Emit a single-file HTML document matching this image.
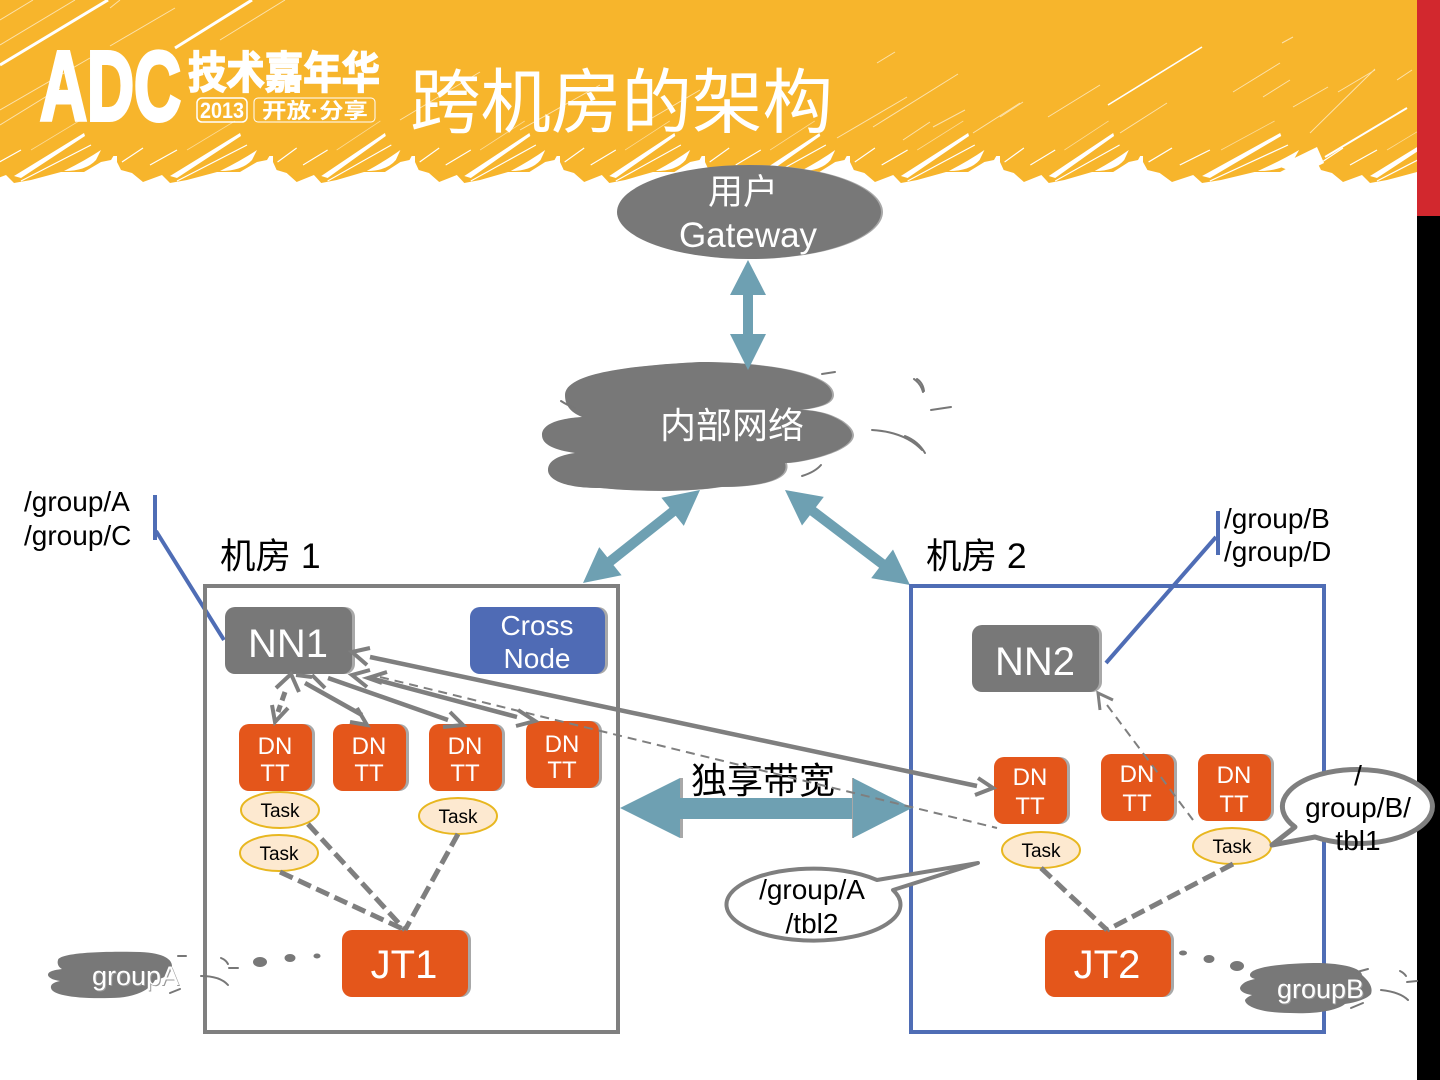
<!DOCTYPE html>
<html><head><meta charset="utf-8"><style>
html,body{margin:0;padding:0;background:#fff}
svg{display:block}
text{font-family:"Liberation Sans","WenQuanYi Zen Hei","Noto Sans CJK SC",sans-serif}
.c{text-anchor:middle}
.w{fill:#fff}
.g{fill:#787878}
.o{fill:#e4561b}
.s{fill:#a8a8a8}
.t{fill:#fde9d0;stroke:#e8b720;stroke-width:2}
.tail{fill:none;stroke:#777;stroke-width:2;stroke-linecap:round}
.ln{stroke:#7f7f7f;fill:none}
</style></head><body>
<svg width="1440" height="1080" viewBox="0 0 1440 1080" xmlns="http://www.w3.org/2000/svg">
<defs>
<g id="tile">
<path d="M0,150 L0,162 4,170 15,173 26,182 45,175 53,183 70,180 100,172 123,172 140,162 150,160 156,150 Z" fill="#f7b52c"/>
<polygon points="53,176 123,133 124,136 60,178" fill="#fff"/>
<path d="M103,171 Q125,171 135,160 L140,150 Q125,160 103,171 Z" fill="#fff"/>
<path d="M60,181 L130,145 M5,162 L26,148 M33,165 L60,150" stroke="#fff" stroke-width="1.2" fill="none"/>
<path d="M70,150 L118,121" stroke="#fff" stroke-width=".8" opacity=".5" fill="none"/>
</g>
</defs>
<rect x="0" y="0" width="1440" height="1080" fill="#fff"/>
<!-- header -->
<rect x="0" y="0" width="1417" height="156" fill="#f7b52c"/>
<use href="#tile" transform="translate(-39,0)"/>
<use href="#tile" transform="translate(117,0)"/>
<use href="#tile" transform="translate(273,0) scale(.91,1)"/>
<use href="#tile" transform="translate(415,0) scale(.93,1)"/>
<use href="#tile" transform="translate(560,0) scale(.93,1)"/>
<use href="#tile" transform="translate(705,0) scale(.93,1)"/>
<use href="#tile" transform="translate(850,0) scale(.96,1)"/>
<use href="#tile" transform="translate(1000,0) scale(.92,1)"/>
<use href="#tile" transform="translate(1143,0) scale(1.115,1)"/>
<use href="#tile" transform="translate(1317,0)"/>
<polygon points="1278,166 1317,147 1324,163 1300,175" fill="#fff"/>
<g stroke="#fff" fill="none">
<path d="M0,65 L108,0 M175,48 L252,0" stroke-width="3"/>
<path d="M1108,105 L1202,47" stroke-width="1.6"/>
<path d="M1325,157 L1407,108" stroke-width="2"/>
<g stroke-width="1" opacity=".6">
<path d="M0,20 L33,0 M0,45 L75,0 M110,46 L175,8 M0,110 L90,58 M0,125 L60,88 M120,0 L110,8 M285,0 L220,40"/>
<path d="M400,120 L480,72 M520,130 L600,85 M640,125 L700,90"/>
<path d="M877,63 L895,52 M837,138 L907,97 M873,127 L958,74 M903,140 L930,122 M933,127 L965,110 M973,133 L1020,103"/>
<path d="M1000,117 L1023,102 M1048,117 L1100,85 M1120,133 L1167,103 M1282,43 L1293,37 M1233,92 L1280,63 M1263,97 L1290,80 M1293,107 L1328,87 M1310,133 L1375,69 M1338,92 L1375,70 M1397,80 L1412,70"/>
</g>
</g>
<rect x="1417" y="0" width="23" height="1080" fill="#000"/>
<rect x="1417" y="0" width="23" height="216" fill="#d2282e"/>
<!-- logo -->
<text x="40" y="120" font-size="98" font-weight="700" fill="#fff" stroke="#fff" stroke-width="4" textLength="141" lengthAdjust="spacingAndGlyphs">ADC</text>
<text x="188" y="88" font-size="44" font-weight="700" fill="#fff" stroke="#fff" stroke-width="1.5" textLength="192" lengthAdjust="spacingAndGlyphs">技术嘉年华</text>
<rect x="197" y="98" width="50" height="24" rx="5" fill="none" stroke="#fff" stroke-width="1.5"/>
<text x="222" y="118" class="c" font-size="22" font-weight="700" fill="#fff" textLength="44" lengthAdjust="spacingAndGlyphs">2013</text>
<rect x="254" y="98" width="121" height="24" rx="4" fill="none" stroke="#fff" stroke-width="1"/>
<text x="262" y="118" font-size="21" font-weight="700" fill="#fff" textLength="106" lengthAdjust="spacingAndGlyphs">开放·分享</text>
<text x="410" y="127" font-size="70.5" fill="#fff">跨机房的架构</text>

<!-- gateway -->
<ellipse cx="751" cy="212" rx="132" ry="47" class="s"/>
<ellipse cx="749" cy="212" rx="132" ry="47" class="g"/>
<text x="743" y="204" class="c w" font-size="35">用户</text>
<text x="748" y="247" class="c w" font-size="35">Gateway</text>

<!-- cloud -->
<path transform="translate(2,0)" class="s" d="M565,395 C565,375 620,366 700,362 C760,362 832,372 832,395 C832,405 815,408 800,410 C830,410 852,425 852,435 C852,452 800,463 785,463 C790,480 760,487 720,487 C690,492 640,492 600,488 C560,488 548,478 548,470 C548,460 560,455 575,453 C555,450 542,445 542,435 C542,422 565,418 582,417 C570,412 565,405 565,395 Z"/>
<path class="g" d="M565,395 C565,375 620,366 700,362 C760,362 832,372 832,395 C832,405 815,408 800,410 C830,410 852,425 852,435 C852,452 800,463 785,463 C790,480 760,487 720,487 C690,492 640,492 600,488 C560,488 548,478 548,470 C548,460 560,455 575,453 C555,450 542,445 542,435 C542,422 565,418 582,417 C570,412 565,405 565,395 Z"/>
<text x="660" y="438" class="w" font-size="36">内部网络</text>
<g class="tail">
<path d="M822,374 L835,372"/><path d="M914,379 Q921,384 923,392"/><path d="M917,379 Q923,383 924,391"/><path d="M931,410 L951,407"/>
<path d="M872,430 Q905,432 922,450"/><path d="M905,436 Q918,441 925,453"/><path d="M802,476 Q815,472 821,465"/><path d="M561,401 Q567,405 575,408"/>
</g>

<!-- block arrows -->
<g fill="#6ea0b2">
<polygon points="748,260 766,295 753,295 753,334 766,334 748,370 730,334 743,334 743,295 730,295"/>
<polygon points="700,490 683.8,525.9 675.7,515.7 613.5,565.1 621.6,575.3 583,583 599.2,547.1 607.3,557.3 669.5,507.9 661.4,497.7"/>
<polygon points="785,490 823.8,496.9 815.9,507.2 885.1,559.8 893,549.5 910,585 871.2,578.1 879.1,567.8 809.9,515.2 802,525.5"/>
</g>

<!-- group labels -->
<g font-size="28" fill="#000">
<text x="24" y="511">/group/A</text><text x="24" y="545">/group/C</text>
<text x="1224" y="528">/group/B</text><text x="1224" y="561">/group/D</text>
</g>
<g stroke="#4f6db5" fill="none">
<path d="M155,495 V540 M1218,511 V555" stroke-width="4"/>
<path d="M156,531 L224,640 M1216,537 L1106,663" stroke-width="4"/>
</g>
<text x="220" y="568" font-size="35.5" fill="#000">机房 1</text>
<text x="926" y="568" font-size="35.5" fill="#000">机房 2</text>

<!-- rooms -->
<rect x="205" y="586" width="413" height="446" fill="none" stroke="#7f7f7f" stroke-width="4"/>
<rect x="911" y="586" width="413" height="446" fill="none" stroke="#4f6db5" stroke-width="4"/>

<!-- wide arrow -->
<rect x="680" y="778" width="3" height="60" fill="#a8a8a8"/>
<polygon points="620,808 680,778 680,838" fill="#6ea0b2"/>
<rect x="680" y="798" width="172" height="21" fill="#6ea0b2"/>
<rect x="852" y="778" width="2" height="60" fill="#a8a8a8"/>
<polygon points="912,808 853,778 853,838" fill="#6ea0b2"/>
<text x="691" y="793" font-size="36" fill="#000">独享带宽</text>

<!-- nodes -->
<rect x="228" y="607" width="127" height="67" rx="10" class="s"/><rect x="225" y="607" width="127" height="67" rx="10" class="g"/>
<text x="288" y="657" class="c w" font-size="40">NN1</text>
<rect x="473" y="607" width="135" height="67" rx="10" class="s"/><rect x="470" y="607" width="135" height="67" rx="10" fill="#4f6bb5"/>
<text x="537" y="635" class="c w" font-size="28">Cross</text><text x="537" y="668" class="c w" font-size="28">Node</text>
<rect x="975" y="625" width="127" height="67" rx="10" class="s"/><rect x="972" y="625" width="127" height="67" rx="10" class="g"/>
<text x="1035" y="675" class="c w" font-size="40">NN2</text>

<g class="s">
<rect x="242" y="724" width="73" height="67" rx="10"/><rect x="336" y="724" width="73" height="67" rx="10"/><rect x="432" y="724" width="73" height="67" rx="10"/><rect x="529" y="721" width="73" height="67" rx="10"/>
<rect x="997" y="757" width="73" height="67" rx="10"/><rect x="1104" y="754" width="73" height="67" rx="10"/><rect x="1201" y="754" width="73" height="67" rx="10"/>
<rect x="345" y="930" width="126" height="67" rx="10"/><rect x="1048" y="930" width="126" height="67" rx="10"/>
</g>
<g class="o">
<rect x="239" y="724" width="73" height="67" rx="10"/><rect x="333" y="724" width="73" height="67" rx="10"/><rect x="429" y="724" width="73" height="67" rx="10"/><rect x="526" y="721" width="73" height="67" rx="10"/>
<rect x="994" y="757" width="73" height="67" rx="10"/><rect x="1101" y="754" width="73" height="67" rx="10"/><rect x="1198" y="754" width="73" height="67" rx="10"/>
<rect x="342" y="930" width="126" height="67" rx="10"/><rect x="1045" y="930" width="126" height="67" rx="10"/>
</g>
<g class="c w" font-size="24">
<text x="275" y="754">DN</text><text x="275" y="781">TT</text>
<text x="369" y="754">DN</text><text x="369" y="781">TT</text>
<text x="465" y="754">DN</text><text x="465" y="781">TT</text>
<text x="562" y="752">DN</text><text x="562" y="778">TT</text>
<text x="1030" y="785">DN</text><text x="1030" y="814">TT</text>
<text x="1137" y="782">DN</text><text x="1137" y="811">TT</text>
<text x="1234" y="783">DN</text><text x="1234" y="812">TT</text>
</g>
<text x="404" y="978" class="c w" font-size="40">JT1</text>
<text x="1107" y="978" class="c w" font-size="40">JT2</text>

<!-- tasks -->
<ellipse cx="280" cy="810" rx="39" ry="18" class="t"/><ellipse cx="279" cy="853" rx="39" ry="18" class="t"/><ellipse cx="458" cy="816" rx="39" ry="18" class="t"/><ellipse cx="1041" cy="850" rx="39" ry="18" class="t"/><ellipse cx="1232" cy="846" rx="39" ry="18" class="t"/>
<g class="c" font-size="19" fill="#000">
<text x="280" y="817">Task</text><text x="279" y="860">Task</text><text x="458" y="823">Task</text><text x="1041" y="857">Task</text><text x="1232" y="853">Task</text>
</g>

<!-- connectors -->
<g class="ln" stroke-width="5" stroke-dasharray="14 6">
<path d="M308,824 L405,930"/><path d="M280,872 L405,930"/><path d="M458,834 L405,930"/><path d="M1041,868 L1107,930"/><path d="M1233,864 L1107,930"/>
</g>
<!-- shafts -->
<path d="M285,692 L278,712" class="ln" stroke-width="5" stroke-dasharray="9 5"/>
<g class="ln" stroke-width="4.5">
<path d="M305,683 L362,715"/>
<path d="M328,678 L448,720"/>
<path d="M370,678 L517,717"/>
<path d="M370,657 L977,786"/>
</g>
<!-- open heads -->
<g class="ln" stroke-width="4" stroke-linejoin="miter">
<path d="M276,688 L291,674 L299,692"/>
<path d="M272,705 L275,722 L288,708"/>
<path d="M296,675 L312,677"/>
<path d="M312,675 L325,688"/>
<path d="M357,708 L367,725 L350,722"/>
<path d="M450,712 L463,725 L443,727"/>
<path d="M518,710 L535,721 L516,726"/>
<path d="M370,670 L352,675 L367,687"/>
<path d="M387,672 L368,678 L382,683"/>
<path d="M370,648 L352,652 L367,665"/>
<path d="M978,778 L993,788 L975,795"/>
<path d="M1113,700 L1098,693 L1100,710" stroke-width="3"/>
</g>
<path d="M380,677 L997,828" class="ln" stroke-width="2" stroke-dasharray="9 6"/>
<path d="M1107,705 L1193,820" class="ln" stroke-width="2" stroke-dasharray="9 6"/>

<!-- callouts -->
<path d="M893,890 A87,36 0 1 1 877,880 L978,863 Z" fill="#fff" stroke="#7f7f7f" stroke-width="4" stroke-linejoin="round"/>
<text x="812" y="899" class="c" font-size="28" fill="#000">/group/A</text>
<text x="812" y="933" class="c" font-size="28" fill="#000">/tbl2</text>
<path d="M1295,827 A75,37 0 1 1 1315,837 L1272,845 Z" fill="#fff" stroke="#7f7f7f" stroke-width="5" stroke-linejoin="round"/>
<g class="c" font-size="28" fill="#000">
<text x="1358" y="785">/</text><text x="1358" y="817">group/B/</text><text x="1358" y="850">tbl1</text>
</g>

<!-- small clouds -->
<path class="g" d="M58,960 C60,953 100,951 140,952 C165,953 172,960 172,966 C172,974 165,978 155,980 C150,990 135,998 110,998 C75,999 52,995 51,988 C50,984 55,982 60,981 C52,980 48,977 48,975 C48,971 55,970 62,969 C58,967 57,963 58,960 Z"/>
<path class="g" d="M1250,975 C1250,966 1290,963 1320,963 C1350,964 1362,970 1362,975 C1370,982 1373,988 1371,994 C1366,1000 1352,1003 1345,1004 C1335,1012 1310,1014 1290,1013 C1260,1013 1245,1006 1245,1000 C1247,997 1250,996 1252,995 C1244,994 1240,991 1240,988 C1242,982 1250,980 1255,979 C1252,978 1250,977 1250,975 Z"/>
<g class="g">
<ellipse cx="260" cy="962" rx="7" ry="5"/><ellipse cx="290" cy="958" rx="5.5" ry="4"/><ellipse cx="317" cy="956" rx="3.5" ry="2.5"/>
<ellipse cx="1183" cy="953" rx="4" ry="2.5"/><ellipse cx="1209" cy="959" rx="5.5" ry="4"/><ellipse cx="1237" cy="966" rx="7" ry="5"/>
</g>
<g class="tail" stroke-width="1.5">
<path d="M178,956 L186,956"/><path d="M170,993 L180,989"/>
<path d="M201,976 Q220,976 228,985"/><path d="M221,958 Q226,960 228,964"/><path d="M229,968 L238,968"/>
<path d="M1357,972 L1368,969"/><path d="M1351,1008 L1363,1003"/>
<path d="M1381,990 Q1400,992 1408,1000"/><path d="M1400,971 Q1404,973 1406,976"/><path d="M1407,982 L1417,981"/>
</g>
<text x="93" y="986" font-size="27" fill="#999">groupA</text>
<text x="92" y="985" font-size="27" fill="#fff">groupA</text>
<text x="1278" y="999" font-size="27" fill="#999">groupB</text>
<text x="1277" y="998" font-size="27" fill="#fff">groupB</text>
</svg>
</body></html>
